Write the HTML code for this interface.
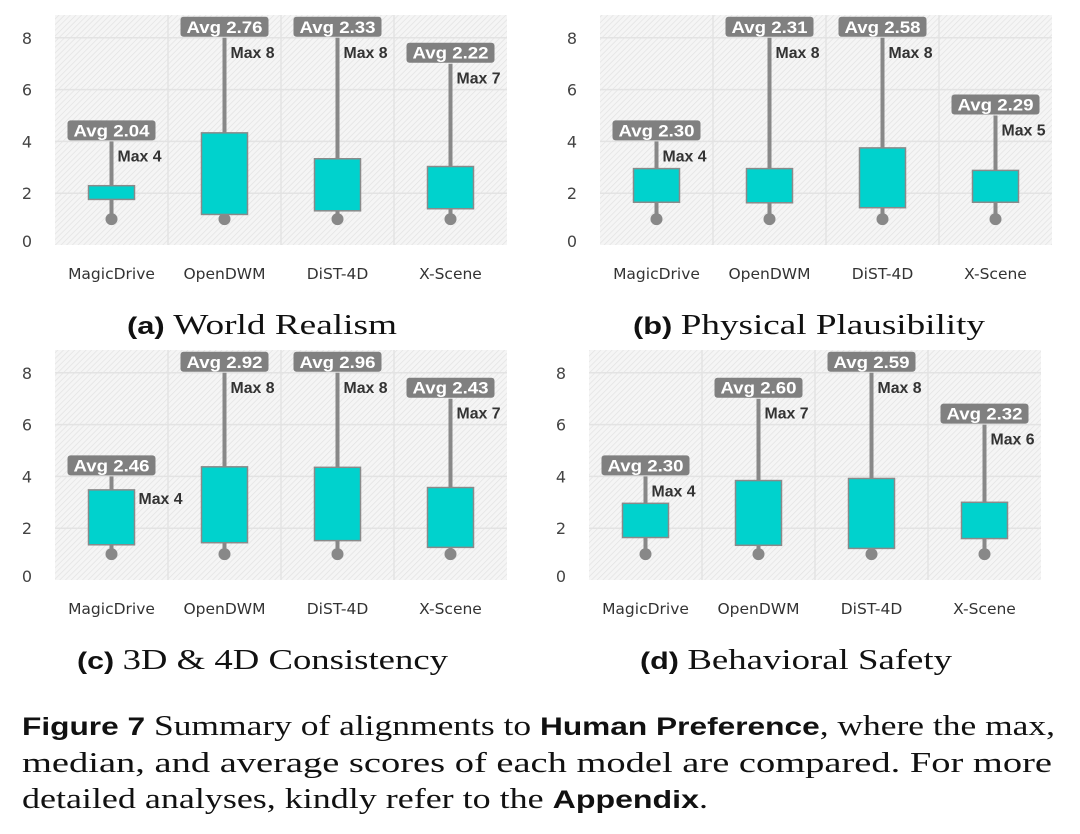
<!DOCTYPE html>
<html><head><meta charset="utf-8">
<style>
html,body{margin:0;padding:0;background:#fff;}
svg{display:block;}
</style></head>
<body>
<svg id="fig" width="1080" height="834" viewBox="0 0 1080 834" xmlns="http://www.w3.org/2000/svg">
<defs>
<pattern id="hatch" width="4" height="4" patternUnits="userSpaceOnUse" patternTransform="rotate(45)">
<rect width="4" height="4" fill="#f5f5f5"/>
<line x1="0" y1="0" x2="0" y2="4" stroke="#e2e2e2" stroke-width="1.4"/>
</pattern>
</defs>
<g id="panels"></g>
<g font-size="28" fill="#111">
<text x="22" y="735" font-family="'Liberation Serif', serif" textLength="1033" lengthAdjust="spacingAndGlyphs"><tspan font-family="'Liberation Sans', sans-serif" font-weight="bold" font-size="25">Figure 7</tspan>  Summary of alignments to <tspan font-family="'Liberation Sans', sans-serif" font-weight="bold" font-size="25">Human Preference</tspan>, where the max,</text>
<text x="22" y="772" font-family="'Liberation Serif', serif" textLength="1030" lengthAdjust="spacingAndGlyphs">median, and average scores of each model are compared.  For more</text>
<text x="22" y="808" font-family="'Liberation Serif', serif" textLength="686" lengthAdjust="spacingAndGlyphs">detailed analyses, kindly refer to the <tspan font-family="'Liberation Sans', sans-serif" font-weight="bold" font-size="25">Appendix</tspan>.</text>
</g>
</svg>
<script>
const categories = ["MagicDrive","OpenDWM","DiST-4D","X-Scene"];
const yTicks = [0,2,4,6,8];
const titlesLetter = ["(a)","(b)","(c)","(d)"];
const titlesText = ["World Realism","Physical Plausibility","3D & 4D Consistency","Behavioral Safety"];
const boxLowA = [1.76,1.18,1.32,1.40];
const boxHighA = [2.29,4.33,3.33,3.03];
const maxA = [4,8,8,7];
const avgA = ["2.04","2.76","2.33","2.22"];
const boxLowB = [1.65,1.63,1.44,1.65];
const boxHighB = [2.95,2.95,3.75,2.88];
const maxB = [4,8,8,5];
const avgB = ["2.30","2.31","2.58","2.29"];
const boxLowC = [1.36,1.44,1.52,1.26];
const boxHighC = [3.48,4.37,4.35,3.57];
const maxC = [4,8,8,7];
const avgC = ["2.46","2.92","2.96","2.43"];
const boxLowD = [1.64,1.34,1.22,1.60];
const boxHighD = [2.96,3.84,3.92,3.00];
const maxD = [4,7,8,6];
const avgD = ["2.30","2.60","2.59","2.32"];
const medianDot = [1,1,1,1];

const lows=[boxLowA,boxLowB,boxLowC,boxLowD], highs=[boxHighA,boxHighB,boxHighC,boxHighD];
const maxs=[maxA,maxB,maxC,maxD], avgs=[avgA,avgB,avgC,avgD];
const origins=[[55,245],[600,245],[55,580],[589,580]];
const titleBox=[[127,270],[633,352],[77,371],[640,312]];
const NS="http://www.w3.org/2000/svg";
const root=document.getElementById('panels');
function mk(tag,attrs,parent){const e=document.createElementNS(NS,tag);for(const k in attrs)e.setAttribute(k,attrs[k]);parent.appendChild(e);return e;}
const colW=113, unit=25.9;
for(let p=0;p<4;p++){
  const [x0,y0]=origins[p];
  const ys=v=>y0-v*unit;
  const xs=i=>x0+colW*i+colW/2;
  const g=mk('g',{},root);
  
  
  const bg=mk('rect',{x:x0,y:y0-230,width:colW*4,height:230,fill:'url(#hatch)'},g);
  
  
  for(let i=1;i<4;i++){const l=mk('line',{x1:x0+colW*i,x2:x0+colW*i,y1:y0-230,y2:y0,stroke:'#e3e3e3','stroke-width':1.5},g);
    
    }
  yTicks.forEach(t=>{
    if(t>0){const l=mk('line',{x1:x0,x2:x0+colW*4,y1:ys(t),y2:ys(t),stroke:'#e3e3e3','stroke-width':1.5},g);
      
      }
    const tx=mk('text',{x:x0-28,y:(t===0?y0+2:ys(t)+6),'text-anchor':'middle','font-family':"'DejaVu Sans', sans-serif",'font-size':16,fill:'#444'},g);
    tx.textContent=t;
    
    
  });
  categories.forEach((c,i)=>{
    const cx=xs(i);
    const lo=lows[p][i], hi=highs[p][i], mx=maxs[p][i];
    const w1=mk('line',{x1:cx,x2:cx,y1:ys(mx),y2:ys(hi),stroke:'#888','stroke-width':4},g);
    
    
    const w2=mk('line',{x1:cx,x2:cx,y1:ys(lo),y2:ys(medianDot[i]),stroke:'#888','stroke-width':4},g);
    
    
    const dot=mk('circle',{cx:cx,cy:ys(medianDot[i]),r:6,fill:'#888'},g);
    
    
    const b=mk('rect',{x:cx-23,y:ys(hi),width:46,height:ys(lo)-ys(hi),fill:'#00d2cd',stroke:'#8a8a8a','stroke-width':1.5},g);
    
    
    const lb=mk('rect',{x:cx-44,y:ys(mx)-21,width:88,height:20,rx:3,fill:'#808080'},g);
    
    
    const at=mk('text',{x:cx,y:ys(mx)-5,'text-anchor':'middle','font-family':"'Liberation Sans', sans-serif",'font-weight':'bold','font-size':17,fill:'#fff',textLength:76,lengthAdjust:'spacingAndGlyphs'},g);
    at.textContent='Avg '+avgs[p][i];
    
    
    let my=ys(mx)+20, mxx=cx+6;
    if(ys(hi)<my+2){ my=ys(hi)+14; mxx=cx+27; }
    const mt=mk('text',{x:mxx,y:my,'font-family':"'Liberation Sans', sans-serif",'font-weight':'bold','font-size':16,fill:'#333',textLength:44,lengthAdjust:'spacingAndGlyphs'},g);
    mt.textContent='Max '+mx;
    
    
    const ct=mk('text',{x:cx,y:y0+34,'text-anchor':'middle','font-family':"'DejaVu Sans', sans-serif",'font-size':15.5,fill:'#333'},g);
    ct.textContent=c;
    
    
  });
  const tt=mk('text',{x:titleBox[p][0],y:y0+89,'font-family':"'Liberation Serif', serif",'font-size':29,fill:'#111',textLength:titleBox[p][1],lengthAdjust:'spacingAndGlyphs'},g);
  
  
  const s1=mk('tspan',{'font-family':"'Liberation Sans', sans-serif",'font-weight':'bold','font-size':24},tt);
  s1.textContent=titlesLetter[p]+'  ';
  const s2=mk('tspan',{},tt);
  s2.textContent=titlesText[p];
}
</script>
</body></html>
